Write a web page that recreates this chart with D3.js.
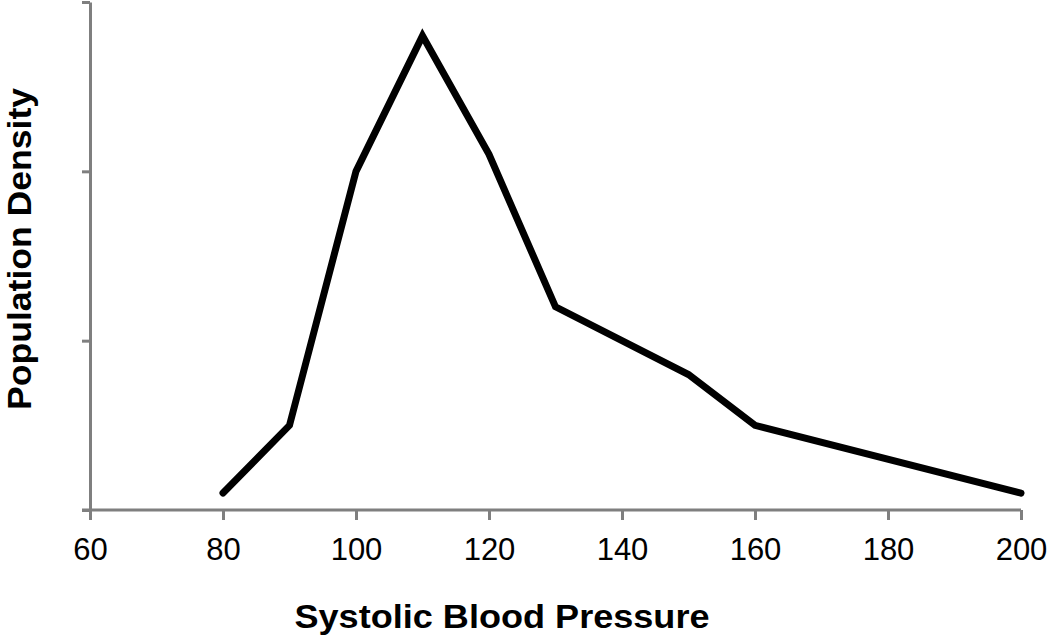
<!DOCTYPE html>
<html><head><meta charset="utf-8">
<script src="https://cdn.jsdelivr.net/npm/d3@7"></script>
<style>body{margin:0;background:#fff;} svg{display:block;}</style>
</head><body>
<svg id="chart" width="1050" height="638"></svg>
<script>
const pressure = [80, 90, 100, 110, 120, 130, 150, 160, 200];
const density = [0.1, 0.5, 2.0, 2.8, 2.1, 1.2, 0.8, 0.5, 0.1];
const xTicks = [60, 80, 100, 120, 140, 160, 180, 200];
const yTicks = [0, 1, 2, 3];
const xTitle = "Systolic Blood Pressure";
const yTitle = "Population Density";

(function () {
const svg = d3.select("#chart");
const mLeft = 90, mRight = 1021, mTop = 2, mBottom = 510;
const x = d3.scaleLinear().domain([60, 200]).range([mLeft, mRight]);
const y = d3.scaleLinear().domain([0, 3]).range([mBottom, mTop]);
const axisColor = "#7f7f7f";
const font = "'Liberation Sans', Arial, sans-serif";

const gx = svg.append("g").attr("transform", `translate(0,${mBottom})`)
  .call(d3.axisBottom(x).tickValues(xTicks).tickSize(10).tickPadding(18).tickSizeOuter(0));
gx.select(".domain").attr("stroke", axisColor).attr("stroke-width", 3).attr("d", `M${mLeft-8},0H${mRight}`);
gx.selectAll(".tick line").attr("stroke", axisColor).attr("stroke-width", 3);
gx.selectAll(".tick text").attr("fill", "#000").style("font-family", font).style("font-size", "31px");

const gy = svg.append("g").attr("transform", `translate(${mLeft},0)`)
  .call(d3.axisLeft(y).tickValues(yTicks).tickSize(8).tickFormat("").tickSizeOuter(0));
gy.select(".domain").attr("stroke", axisColor).attr("stroke-width", 3);
gy.selectAll(".tick line").attr("stroke", axisColor).attr("stroke-width", 3);

const line = d3.line().x((d, i) => x(pressure[i])).y(d => y(d));
svg.append("path").datum(density).attr("d", line)
  .attr("fill", "none").attr("stroke", "#000").attr("stroke-width", 7)
  .attr("stroke-linejoin", "miter").attr("stroke-linecap", "round");

svg.append("text").attr("x", 502).attr("y", 628)
  .attr("text-anchor", "middle").style("font-family", font).style("font-weight", "bold")
  .style("font-size", "34px").attr("textLength", 415).attr("lengthAdjust", "spacingAndGlyphs")
  .text(xTitle);
svg.append("text").attr("transform", `translate(31,249) rotate(-90)`)
  .attr("text-anchor", "middle").style("font-family", font).style("font-weight", "bold")
  .style("font-size", "34px").attr("textLength", 322).attr("lengthAdjust", "spacingAndGlyphs")
  .text(yTitle);
})();
</script>
</body></html>
